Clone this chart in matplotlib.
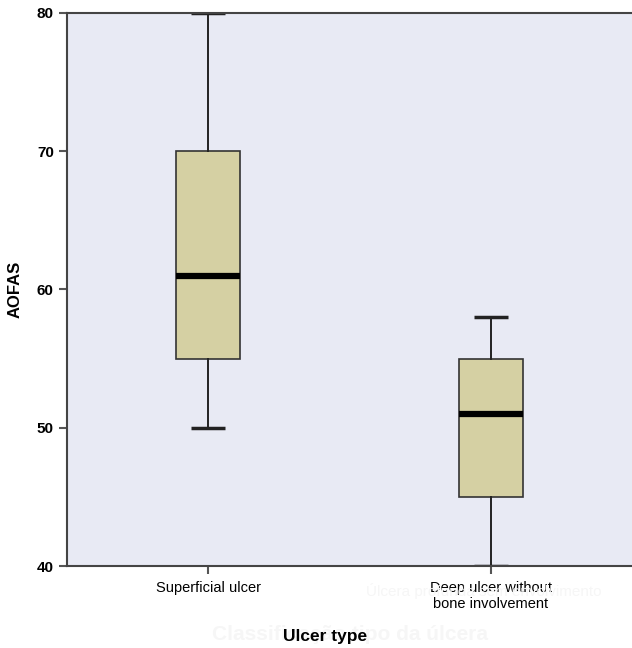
import matplotlib.pyplot as plt

plt.rcParams['font.family'] = ['Liberation Sans', 'DejaVu Sans']

# data (five-number summaries)
categories = ['Superficial ulcer', 'Deep ulcer without\nbone involvement']
whisker_low = [50, 40]
q1 = [55, 45]
median = [61, 51]
q3 = [70, 55]
whisker_high = [80, 58]
yticks = [40, 50, 60, 70, 80]

bg = '#e8eaf4'
box_color = '#d5d0a3'

fig = plt.figure(figsize=(6.32, 6.48), dpi=100)
ax = fig.add_axes([67 / 632, 1 - 566 / 648, 1 - 67 / 632, (566 - 13) / 648])
ax.set_facecolor(bg)

stats = []
for i, name in enumerate(categories):
    stats.append(dict(label=name, whislo=whisker_low[i], q1=q1[i], med=median[i],
                      q3=q3[i], whishi=whisker_high[i], fliers=[]))

ax.bxp(stats, positions=[1, 2], widths=0.225, patch_artist=True, showfliers=False,
       boxprops=dict(facecolor=box_color, edgecolor='#333333', linewidth=1.2),
       medianprops=dict(color='black', linewidth=4.5, solid_capstyle='butt'),
       whiskerprops=dict(color='#222222', linewidth=1.4),
       capprops=dict(color='#222222', linewidth=2.5, solid_capstyle='butt'),
       capwidths=0.12)

ax.set_xlim(0.5, 2.5)
ax.set_ylim(40, 80)
ax.set_yticks(yticks)
ax.set_yticklabels([str(v) for v in yticks], fontweight='bold', fontsize=11)
ax.set_xticks([1, 2])
ax.set_xticklabels(categories, fontsize=10.5, color='black')
ax.tick_params(axis='both', direction='out', length=6, width=1.5, color='#555555')
ax.tick_params(axis='x', pad=5)

for s in ['left', 'bottom', 'top']:
    ax.spines[s].set_color('#444444')
    ax.spines[s].set_linewidth(1.5)
ax.spines['right'].set_visible(False)

ax.set_ylabel('AOFAS', fontsize=12, fontweight='bold', labelpad=10)

# faint leftover text from the original (Portuguese) version of the chart
fig.text(350 / 632, 1 - 635 / 648, 'Classificação tipo da úlcera', fontsize=15,
         fontweight='bold', color='#f6f6f6', ha='center', va='center', zorder=0)
fig.text(484 / 632, 1 - 591 / 648, 'Úlcera profunda sem envolvimento', fontsize=11,
         color='#f6f6f6', ha='center', va='center', zorder=0)

fig.text(325 / 632, 1 - 636 / 648, 'Ulcer type', fontsize=12.5, fontweight='bold',
         ha='center', va='center')

fig.savefig('out.png', dpi=100, facecolor='white')
